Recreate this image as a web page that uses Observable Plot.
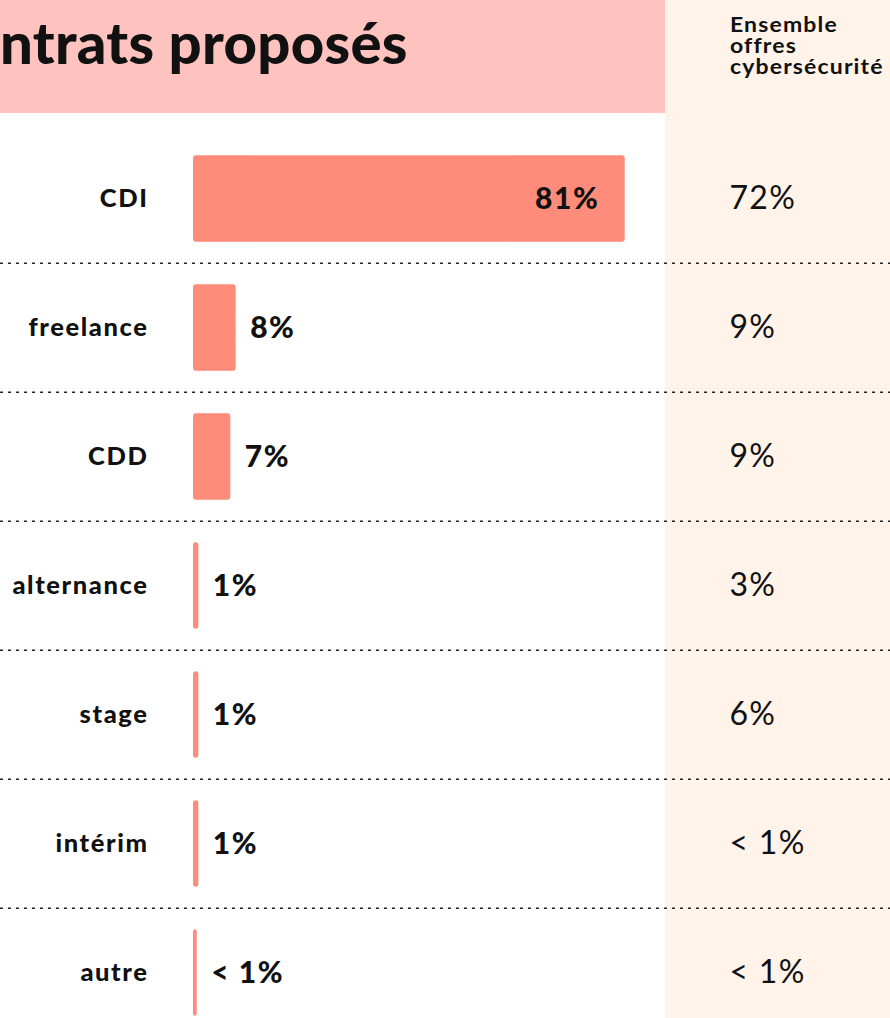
<!DOCTYPE html>
<html>
<head>
<meta charset="utf-8">
<script src="https://cdn.jsdelivr.net/npm/d3@7"></script>
<script src="https://cdn.jsdelivr.net/npm/@observablehq/plot@0.6"></script>
<style>
  html, body { margin: 0; padding: 0; background: #ffffff; }
  #wrap { position: relative; width: 890px; height: 1018px; overflow: hidden; font-family: Lato, "Noto Sans", sans-serif; color: #111; }
  #head { position: absolute; left: 0; top: 0; width: 665px; height: 113px; background: #ffc3bf; }
  #col { position: absolute; left: 665px; top: 0; width: 225px; height: 1018px; background: #fff3ea; }
  #title { position: absolute; left: 0; top: 13px; font-size: 58px; line-height: 58px; font-weight: 900; letter-spacing: 0.3px; white-space: nowrap; }
  #colhead { position: absolute; left: 730px; top: 14px; font-size: 20px; font-weight: 700; letter-spacing: 1px; transform: scaleX(1.15); transform-origin: 0 0; white-space: nowrap; }
  #colhead div { display: block; height: 21px; line-height: 21px; overflow: visible; }
  #chart { position: absolute; left: 0; top: 0; }
</style>
</head>
<body>
<div id="wrap">
  <div id="head"></div>
  <div id="col"></div>
  <div id="title">ntrats proposés</div>
  <div id="colhead"><div>Ensemble</div><div>offres</div><div>cybersécurité</div></div>
  <div id="chart"></div>
</div>
<script>
const categories = ["CDI", "freelance", "CDD", "alternance", "stage", "intérim", "autre"];
const shares = [81, 8, 7, 1, 1, 1, 0.7];
const shareLabels = ["81%", "8%", "7%", "1%", "1%", "1%", "< 1%"];
const overallLabels = ["72%", "9%", "9%", "3%", "6%", "< 1%", "< 1%"];

const data = categories.map((c, i) => ({
  category: c,
  share: shares[i],
  label: shareLabels[i],
  overall: overallLabels[i]
}));

const yRange = [131, 1039];
const step = (yRange[1] - yRange[0]) / categories.length;
const barInset = (step - 87) / 2;
const fam = "Lato, 'Noto Sans', sans-serif";

const chart = Plot.plot({
  width: 890,
  height: 1018,
  margin: 0,
  style: { background: "transparent", fontFamily: fam, color: "#111", overflow: "visible" },
  x: { domain: [0, 100], range: [193, 726], axis: null },
  y: { domain: categories, range: yRange, padding: 0, axis: null },
  marks: [
    Plot.ruleY(categories.slice(1), { y: d => d, dy: -step / 2, stroke: "#222", strokeWidth: 1.5, strokeDasharray: "3,5" }),
    Plot.barX(data, { x: "share", y: "category", fill: "#ff8b7b", rx: 3, insetTop: barInset, insetBottom: barInset }),
    Plot.text(data.filter(d => d.share >= 50), { x: "share", y: "category", text: "label", textAnchor: "end", dx: -26, fontSize: 30, fontWeight: 900, fill: "#111" }),
    Plot.text(data.filter(d => d.share < 50), { x: "share", y: "category", text: "label", textAnchor: "start", dx: 14, fontSize: 30, fontWeight: 900, fill: "#111" }),
    Plot.text(data, { y: "category", text: "category", frameAnchor: "left", dx: 148, textAnchor: "end", fontSize: 25.5, fontWeight: 900, fill: "#111" }),
    Plot.text(data, { y: "category", text: "overall", frameAnchor: "left", dx: 729, textAnchor: "start", fontSize: 32, fontWeight: 400, fill: "#111" })
  ]
});
// letter spacing per text layer (in mark order)
const textGroups = chart.querySelectorAll('g[aria-label="text"]');
const spacings = ["1.5px", "1.5px", "1.6px", "1.3px"];
textGroups.forEach((g, i) => g.setAttribute("letter-spacing", spacings[i] || "0"));
document.getElementById("chart").appendChild(chart);
</script>
</body>
</html>
